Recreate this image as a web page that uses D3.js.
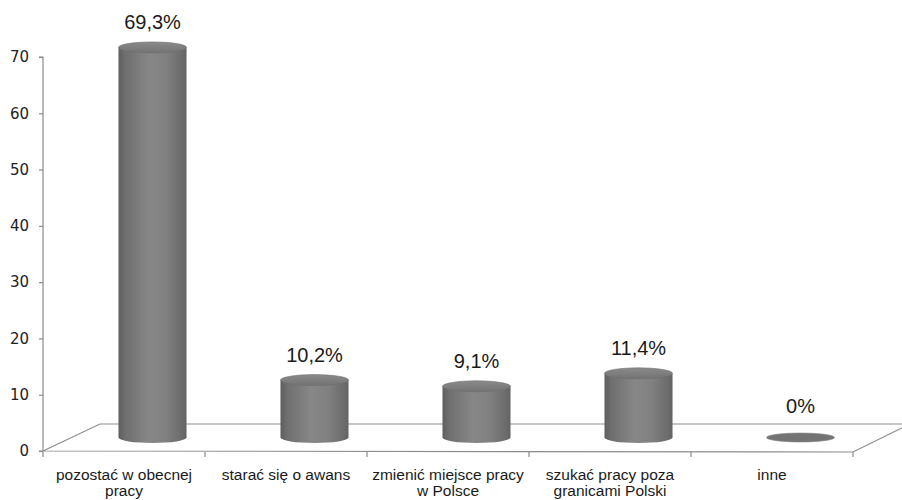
<!DOCTYPE html>
<html>
<head>
<meta charset="utf-8">
<script src="https://cdn.jsdelivr.net/npm/d3@7"></script>
<style>
  html, body { margin: 0; padding: 0; background: #fff; }
  svg { display: block; }
</style>
</head>
<body>
<svg id="chart" width="902" height="500"></svg>
<script>
// Answers (percent of respondents)
const categories = [
  ["pozostać w obecnej", "pracy"],
  ["starać się o awans"],
  ["zmienić miejsce pracy", "w Polsce"],
  ["szukać pracy poza", "granicami Polski"],
  ["inne"]
];
const values = [69.3, 10.2, 9.1, 11.4, 0];
const valueLabels = ["69,3%", "10,2%", "9,1%", "11,4%", "0%"];
const yTicks = [0, 10, 20, 30, 40, 50, 60, 70];

const svg = d3.select("#chart");

const plotLeft = 43, plotRight = 853, plotBottom = 451, plotTop = 57;
const depthX = 57, depthY = -27;           // floor depth offset
const midX = depthX / 2, midY = depthY / 2; // cylinders stand mid-depth

const x = d3.scaleBand().domain(d3.range(categories.length)).range([plotLeft, plotRight]).padding(0);
const y = d3.scaleLinear().domain([0, 70]).range([plotBottom, plotTop]);

const defs = svg.append("defs");
const body = defs.append("linearGradient").attr("id", "cylBody")
  .attr("x1", "0").attr("x2", "1").attr("y1", "0").attr("y2", "0");
[[0, "#5e5e5e"], [0.1, "#6f6f6f"], [0.45, "#878787"], [0.7, "#808080"], [0.93, "#6c6c6c"], [1, "#636363"]]
  .forEach(([o, c]) => body.append("stop").attr("offset", o).attr("stop-color", c));
const topG = defs.append("linearGradient").attr("id", "cylTop")
  .attr("x1", "0").attr("x2", "0").attr("y1", "0").attr("y2", "1");
[[0, "#8a8a8a"], [1, "#737373"]]
  .forEach(([o, c]) => topG.append("stop").attr("offset", o).attr("stop-color", c));

// Floor
const lineColor = "#8c8c8c";
svg.append("path")
  .attr("d", `M${plotLeft},${plotBottom} L${plotLeft + depthX},${plotBottom + depthY} L${plotRight + depthX},${plotBottom + depthY} L${plotRight},${plotBottom + 1} Z`)
  .attr("fill", "none").attr("stroke", lineColor).attr("stroke-width", 1.2);

// Y axis
const yAxis = d3.axisLeft(y).tickValues(yTicks).tickSize(4).tickPadding(10).tickFormat(d3.format("d"));
const gy = svg.append("g").attr("transform", `translate(${plotLeft},0)`).call(yAxis);
gy.select(".domain").attr("stroke", lineColor).attr("stroke-width", 1.2).attr("d", `M-4,${plotTop}H0V${plotBottom}H-4`);
gy.selectAll(".tick line").attr("stroke", lineColor).attr("stroke-width", 1.2);
gy.selectAll(".tick text").attr("font-family", "DejaVu Sans, sans-serif").attr("font-size", 15).attr("fill", "#222");

// X axis ticks on the floor's front edge
const bounds = d3.range(categories.length + 1).map(i => i < categories.length ? x(i) : x(categories.length - 1) + x.bandwidth());
svg.append("g").selectAll("line").data(bounds).join("line")
  .attr("x1", d => d).attr("x2", d => d)
  .attr("y1", plotBottom + 1).attr("y2", plotBottom + 6)
  .attr("stroke", lineColor).attr("stroke-width", 1.2);

// Cylinders
const bw = x.bandwidth() * 0.42;
const ry = 5.5;
const bars = svg.append("g").selectAll("g").data(values).join("g");
bars.each(function (v, i) {
  const g = d3.select(this);
  const cx = x(i) + x.bandwidth() / 2 + midX;
  const yb = y(0) + midY;
  const yt = y(v) + midY;
  if (v > 0) {
    g.append("ellipse").attr("cx", cx).attr("cy", yb).attr("rx", bw / 2).attr("ry", ry)
      .attr("fill", "url(#cylBody)");
    g.append("rect").attr("x", cx - bw / 2).attr("y", yt).attr("width", bw).attr("height", yb - yt)
      .attr("fill", "url(#cylBody)");
    g.append("ellipse").attr("cx", cx).attr("cy", yt).attr("rx", bw / 2).attr("ry", ry)
      .attr("fill", "url(#cylTop)").attr("stroke", "#6e6e6e").attr("stroke-width", 0.6);
  } else {
    g.append("ellipse").attr("cx", cx).attr("cy", yt).attr("rx", bw / 2).attr("ry", 4.5)
      .attr("fill", "#737373").attr("stroke", "#8a8a8a").attr("stroke-width", 0.6);
  }
  g.append("text").attr("x", cx).attr("y", yt - (v > 0 ? 18 : 25))
    .attr("text-anchor", "middle")
    .attr("font-family", "Liberation Sans, Arial, sans-serif").attr("font-size", 20)
    .attr("fill", "#1a1a1a").text(valueLabels[i]);
});

// Category labels
const labels = svg.append("g").selectAll("text").data(categories).join("text")
  .attr("y", 480)
  .attr("text-anchor", "middle")
  .attr("font-family", "Liberation Sans, Arial, sans-serif").attr("font-size", 15.5)
  .attr("fill", "#1a1a1a");
labels.each(function (d, i) {
  const t = d3.select(this);
  d.forEach((line, j) => {
    t.append("tspan").attr("x", x(i) + x.bandwidth() / 2).attr("dy", j === 0 ? 0 : 16).text(line);
  });
});
</script>
</body>
</html>
